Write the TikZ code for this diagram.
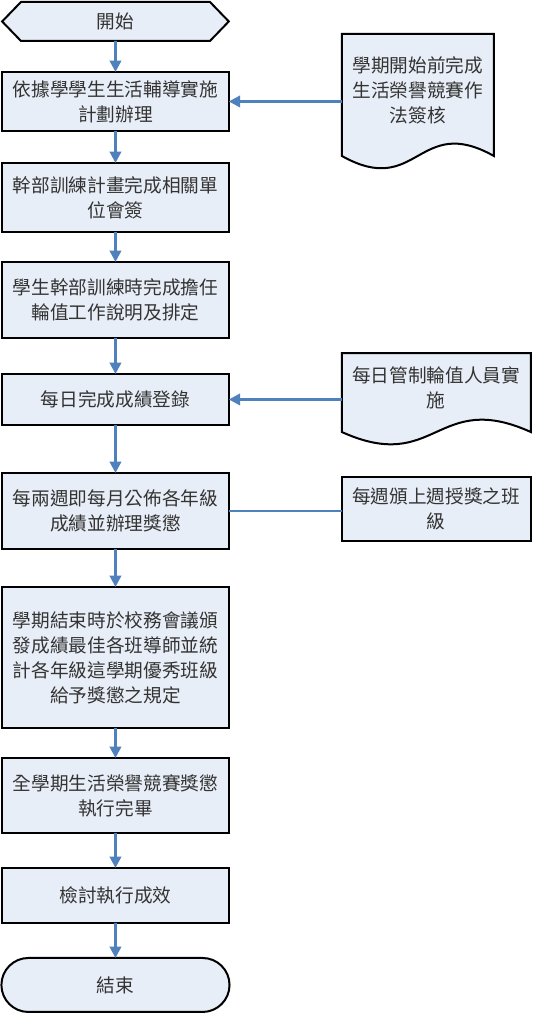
\documentclass[tikz,border=0pt]{standalone}
\usepackage{fontspec}
\newfontfamily\cjk{Noto Sans CJK TC}
\usepackage{xcolor}
\usepackage{tikz}
\usetikzlibrary{positioning, arrows.meta, shapes.misc, shapes.symbols, calc, backgrounds}
\definecolor{boxfill}{HTML}{E8EEF7}
\definecolor{flowblue}{HTML}{4F81BD}

\begin{document}
\begin{tikzpicture}[
    node distance=24pt,
    every node/.style={font=\cjk\fontsize{14pt}{18.75pt}\selectfont, text=black!80},
    stepbox/.style={rectangle, draw=black, line width=1.5pt, fill=boxfill, minimum width=170pt, align=center, outer sep=0pt},
    terminal/.style={stepbox, rounded rectangle, minimum width=177.75pt},
    startsig/.style={stepbox, signal, signal to=west and east, signal pointer angle=92},
    docnote/.style={rectangle, minimum width=114pt, align=center, outer sep=0pt},
    paper/.style={draw=black, line width=1.5pt, fill=boxfill},
    flow/.style={draw=flowblue, line width=2pt, -{Triangle[width=8.5pt, length=8.5pt]}},
    link/.style={draw=flowblue, line width=2pt}
]
    \useasboundingbox (0,0) rectangle (399.75pt,-759.75pt);

    \node[startsig, minimum height=29.25pt] at (86.6pt,-16.1pt) (start) {開始};

    \node[stepbox, minimum height=44.25pt, below=23.25pt of start] (box1) {依據學學生生活輔導實施\\計劃辦理};
    \node[stepbox, minimum height=51.75pt, below=24pt of box1] (box2) {幹部訓練計畫完成相關單\\位會簽};
    \node[stepbox, minimum height=57pt, below=22.5pt of box2] (box3) {學生幹部訓練時完成擔任\\輪值工作說明及排定};
    \node[stepbox, minimum height=38.25pt, below=27pt of box3] (box4) {每日完成成績登錄};
    \node[stepbox, minimum height=57pt, below=36pt of box4] (box5) {每兩週即每月公佈各年級\\成績並辦理獎懲};
    \node[stepbox, minimum height=105.75pt, below=28.5pt of box5] (box6) {學期結束時於校務會議頒\\發成績最佳各班導師並統\\計各年級這學期優秀班級\\給予獎懲之規定};
    \node[stepbox, minimum height=56.25pt, below=22.5pt of box6] (box7) {全學期生活榮譽競賽獎懲\\執行完畢};
    \node[stepbox, minimum height=41.25pt, below=26.25pt of box7] (box8) {檢討執行成效};
    \node[terminal, minimum height=40.5pt, below=26.25pt of box8] (end) {結束};

    % side notes
    \node[docnote, minimum height=84pt, right=84.75pt of box1, yshift=8.65pt] (doc1) {學期開始前完成\\生活榮譽競賽作\\法簽核};
    \node[docnote, minimum width=141.75pt, minimum height=52.5pt, right=84.75pt of box4, yshift=8.6pt] (doc2) {每日管制輪值人員實\\施};
    \node[stepbox, minimum width=141.75pt, minimum height=48pt, right=84.75pt of box5, yshift=1.5pt] (note3) {每週頒上週授獎之班\\級};

    \begin{scope}[on background layer]
        \foreach \d/\h in {doc1/7.5pt, doc2/6.75pt}
            \path[paper] ($(\d.south west)+(0,-\h)$) -- (\d.north west) -- (\d.north east) -- ($(\d.south east)+(0,-\h)$)
                .. controls ($(\d.south)+(0,32pt-\h)$) and ($(\d.south)+(0,-32pt-\h)$) .. ($(\d.south west)+(0,-\h)$) -- cycle;
    \end{scope}

    \foreach \a/\b in {start/box1, box1/box2, box2/box3, box3/box4, box4/box5, box5/box6, box6/box7, box7/box8, box8/end}
        \draw[flow] (\a) -- (\b);

    \draw[flow] (box1.east -| doc1.west) -- (box1.east);
    \draw[flow] (box4.east -| doc2.west) -- (box4.east);
    \draw[link] (box5.east -| note3.west) -- (box5.east);
\end{tikzpicture}
\end{document}
